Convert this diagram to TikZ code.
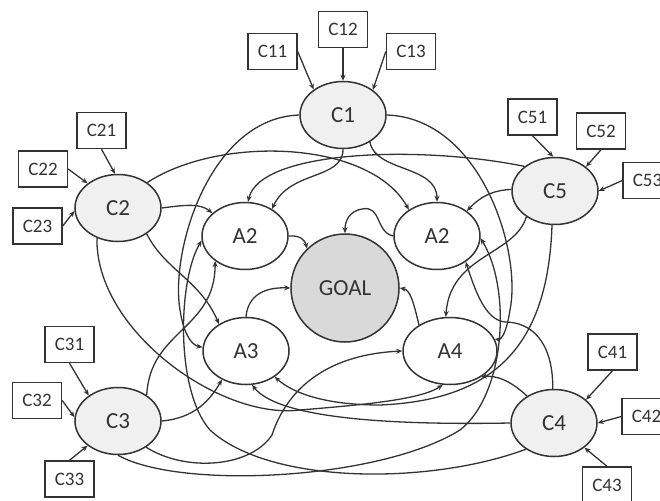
\documentclass[tikz,border=0pt]{standalone}
\usepackage{fontspec}
\setmainfont{Carlito}
\usetikzlibrary{shapes.geometric,arrows.meta}
\definecolor{ln}{HTML}{333333}
\definecolor{txt}{HTML}{333333}
\definecolor{cfill}{HTML}{F0F0F0}
\definecolor{gfill}{HTML}{D9D9D9}
\pgfdeclarelayer{bg}
\pgfsetlayers{bg,main}
\begin{document}
\begin{tikzpicture}[x=1pt,y=-1pt,
  cnode/.style={ellipse,draw=ln,line width=1.5pt,fill=cfill,minimum width=86pt,minimum height=67pt,inner sep=0pt,font=\fontsize{23}{23}\selectfont,text=txt},
  anode/.style={cnode,fill=white},
  goalnode/.style={circle,draw=ln,line width=1.5pt,fill=gfill,minimum size=108pt,inner sep=0pt,font=\fontsize{23}{23}\selectfont,text=txt},
  box/.style={rectangle,draw=ln,line width=1.4pt,fill=white,minimum width=49pt,minimum height=36pt,inner sep=0pt,font=\fontsize{19}{19}\selectfont,text=txt},
  link/.style={draw=ln,line width=1.3pt,-{Stealth[length=6pt,width=5pt]}},
]
\useasboundingbox (0,0) rectangle (660,500);

% main nodes
\node[cnode] (C1) at (343,115) {C1};
\node[cnode] (C2) at (118,208) {C2};
\node[cnode] (C3) at (118,421) {C3};
\node[cnode] (C4) at (554,423) {C4};
\node[cnode] (C5) at (555,191) {C5};
\node[goalnode] (G) at (345,288) {GOAL};
\node[anode] (A2L) at (245,236) {A2};
\node[anode] (A2R) at (437,236) {A2};
\node[anode] (A3) at (246,351) {A3};
\node[anode,minimum width=94pt] (A4) at (450,351) {A4};

% boxes
\node[box] (C11) at (272.5,51.5) {C11};
\node[box] (C12) at (343,29.5) {C12};
\node[box] (C13) at (411,51.5) {C13};
\node[box] (C21) at (101.5,130.5) {C21};
\node[box] (C22) at (43,169) {C22};
\node[box] (C23) at (37.5,226) {C23};
\node[box] (C31) at (69.5,344.5) {C31};
\node[box] (C32) at (37,400.5) {C32};
\node[box] (C33) at (69.5,479) {C33};
\node[box] (C41) at (612.5,352) {C41};
\node[box] (C42) at (646.5,416.5) {C42};
\node[box] (C43) at (607,485) {C43};
\node[box] (C51) at (532.5,117) {C51};
\node[box] (C52) at (601,131) {C52};
\node[box] (C53) at (647.5,180.5) {C53};

% input arrows
\draw[link] (C11.east) -- (C1.139);
\draw[link] (C12.south) -- (C1.north);
\draw[link] (C13.west) -- (C1.40);
\draw[link] (C21.south) -- (C2.95);
\draw[link] (C22.east) -- (C2.141);
\draw[link] (C23.east) -- (C2.184);
\draw[link] (C31.south) -- (C3.139);
\draw[link] (C32.east) -- (C3.175);
\draw[link] (C33.north) -- (C3.219);
\draw[link] (C41.south) -- (C4.36);
\draw[link] (C42.west) -- (C4.east);
\draw[link] (C43.north) -- (C4.321);
\draw[link] (C51.south) -- (C5.93);
\draw[link] (C52.south) -- (C5.38);
\draw[link] (C53.west) -- (C5.east);

\begin{pgfonlayer}{bg}
% C1
\draw[link] (C1.south) .. controls (343,180) and (290,170) .. (A2L.45);
\draw[link] (C1.315) .. controls (375,172) and (437,165) .. (A2R.north);
\draw[link] (C1.west) .. controls (210,118) and (170,250) .. (180,310) .. controls (183,330) and (190,345) .. (A3.175);
\draw[link] (C1.east) .. controls (480,118) and (522,250) .. (510,310) .. controls (507,330) and (502,340) .. (A4.15);
% C2
\draw[link] (C2.east) .. controls (185,205) and (200,203) .. (A2L.145);
\draw[link] (C2.41) .. controls (220,135) and (370,140) .. (A2R.137);
\draw[link] (C2.318) .. controls (165,270) and (200,280) .. (A3.135);
\draw[link] (C2.235) .. controls (95,330) and (220,420) .. (300,410) .. controls (360,405) and (420,400) .. (A4.258);
% C3
\draw[link] (C3.42) .. controls (150,330) and (215,330) .. (A2L.220);
\draw[link] (C3.east) .. controls (195,418) and (210,400) .. (A3.230);
\draw[link] (C3.317) .. controls (185,472) and (250,468) .. (272,435) .. controls (285,395) and (320,355) .. (A4.west);
\draw[link] (C3.south) .. controls (180,490) and (380,480) .. (460,430) .. controls (505,395) and (512,290) .. (A2R.-3);
% C4
\draw[link] (C4.135) .. controls (510,380) and (495,375) .. (A4.320);
\draw[link] (C4.92) .. controls (553,340) and (530,322) .. (505,322) .. controls (485,320) and (475,290) .. (A2R.318);
\draw[link] (C4.west) .. controls (400,425) and (280,420) .. (A3.280);
\draw[link] (C4.223) .. controls (430,485) and (270,485) .. (210,430) .. controls (175,390) and (178,280) .. (A2L.186);
% C5
\draw[link] (C5.141) .. controls (420,145) and (260,150) .. (A2L.85);
\draw[link] (C5.178) .. controls (495,190) and (482,195) .. (A2R.40);
\draw[link] (C5.222) .. controls (515,255) and (450,255) .. (A4.97);
\draw[link] (C5.265) .. controls (548,340) and (500,400) .. (380,405) .. controls (330,405) and (295,395) .. (A3.318);
% to GOAL
\draw[link] (A2L.east) .. controls (300,235) and (305,240) .. (G.134);
\draw[link] (A2R.west) .. controls (375,232) and (382,205) .. (362,209) .. controls (350,211) and (345,220) .. (G.north);
\draw[link] (A3.north) .. controls (248,295) and (265,287) .. (G.west);
\draw[link] (A4.140) .. controls (413,300) and (410,290) .. (G.east);
\end{pgfonlayer}
\end{tikzpicture}
\end{document}
